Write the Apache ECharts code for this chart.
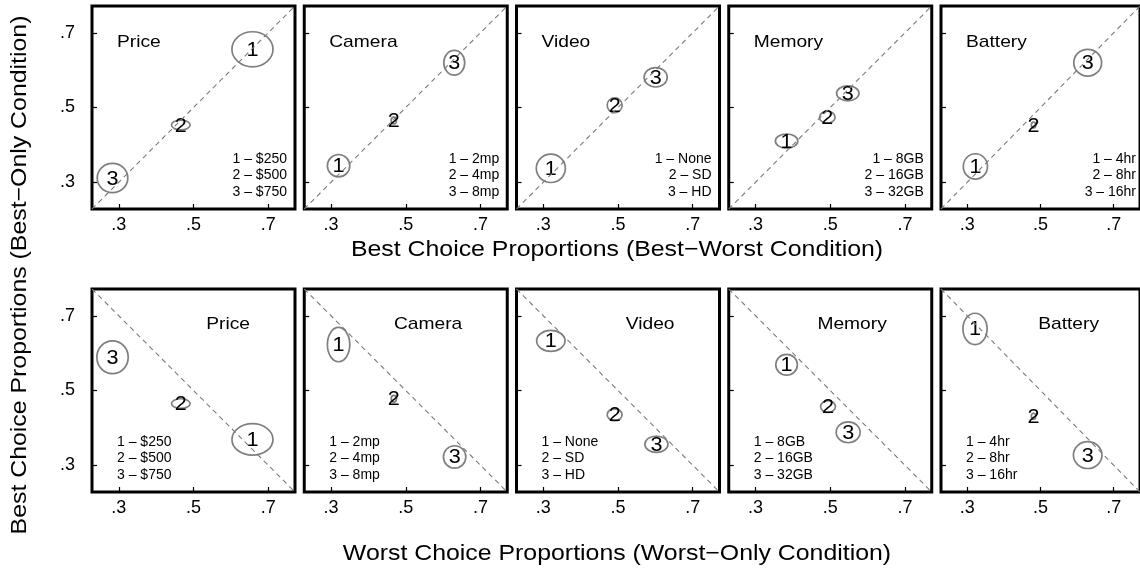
<!DOCTYPE html>
<html>
<head>
<meta charset="utf-8">
<script src="https://cdn.jsdelivr.net/npm/echarts@6/dist/echarts.min.js"></script>
<style>
  html, body { margin: 0; padding: 0; background: #fff; }
  #chart { width: 1140px; height: 571px; }
</style>
</head>
<body>
<div id="chart"></div>
<script>
// Attributes and their levels
const attributes = ['Price', 'Camera', 'Video', 'Memory', 'Battery'];
const levelNames = [
  ['$250', '$500', '$750'],
  ['2mp', '4mp', '8mp'],
  ['None', 'SD', 'HD'],
  ['8GB', '16GB', '32GB'],
  ['4hr', '8hr', '16hr']
];
const levelNumbers = ['1', '2', '3'];

// Axis scale and tick labels
const axisMin = 0.228;
const axisMax = 0.772;
const tickValues = [0.3, 0.5, 0.7];
const tickLabels = ['.3', '.5', '.7'];

// Top row: best choice (best-worst) vs best choice (best-only)
const topX = [
  [0.658, 0.466, 0.283],
  [0.320, 0.468, 0.630],
  [0.320, 0.491, 0.601],
  [0.383, 0.492, 0.547],
  [0.322, 0.481, 0.629]
];
const topY = [
  [0.656, 0.453, 0.311],
  [0.344, 0.465, 0.620],
  [0.337, 0.506, 0.581],
  [0.410, 0.474, 0.538],
  [0.342, 0.453, 0.620]
];
// half-widths of the uncertainty ellipses (data units)
const topRx = [
  [0.055, 0.025, 0.041],
  [0.030, 0.007, 0.028],
  [0.039, 0.020, 0.031],
  [0.030, 0.021, 0.030],
  [0.033, 0.006, 0.038]
];
const topRy = [
  [0.047, 0.013, 0.039],
  [0.030, 0.009, 0.033],
  [0.038, 0.020, 0.026],
  [0.019, 0.016, 0.020],
  [0.034, 0.008, 0.036]
];

// Bottom row: worst choice (worst-only) vs best choice
const bottomX = [
  [0.658, 0.466, 0.283],
  [0.320, 0.468, 0.631],
  [0.320, 0.491, 0.603],
  [0.383, 0.494, 0.548],
  [0.321, 0.481, 0.629]
];
const bottomY = [
  [0.369, 0.465, 0.589],
  [0.623, 0.478, 0.322],
  [0.633, 0.435, 0.356],
  [0.569, 0.457, 0.388],
  [0.665, 0.431, 0.327]
];
const bottomRx = [
  [0.055, 0.025, 0.042],
  [0.030, 0.007, 0.030],
  [0.038, 0.020, 0.031],
  [0.029, 0.020, 0.032],
  [0.033, 0.006, 0.039]
];
const bottomRy = [
  [0.042, 0.013, 0.044],
  [0.046, 0.009, 0.030],
  [0.028, 0.016, 0.022],
  [0.028, 0.016, 0.028],
  [0.042, 0.008, 0.036]
];

// Layout
const FONT = '"Liberation Sans", Arial, Helvetica, sans-serif';
const WIDE = 1.13;            // horizontal stretch of the lettering
const panelLeft0 = 92;
const panelStep = 212.25;
const panelSize = 203;
const rowTops = [6, 289];

const chart = echarts.init(document.getElementById('chart'), null, { renderer: 'canvas' });

const grids = [], xAxes = [], yAxes = [], series = [], graphics = [];

function fmtTick(v) {
  const i = tickValues.findIndex(t => Math.abs(t - v) < 1e-9);
  return i >= 0 ? tickLabels[i] : '';
}

const rows = [
  { xs: topX, ys: topY, rxs: topRx, rys: topRy, rising: true },
  { xs: bottomX, ys: bottomY, rxs: bottomRx, rys: bottomRy, rising: false }
];

rows.forEach((row, r) => {
  attributes.forEach((attr, c) => {
    const idx = grids.length;
    const left = panelLeft0 + c * panelStep;
    const top = rowTops[r];
    grids.push({
      left: left, top: top, width: panelSize, height: panelSize,
      show: true, borderColor: '#000', borderWidth: 3, backgroundColor: 'transparent'
    });
    xAxes.push({
      gridIndex: idx, type: 'value', min: axisMin, max: axisMax,
      axisLine: { show: false }, splitLine: { show: false },
      axisTick: { show: true, inside: true, length: 5, customValues: tickValues,
                  lineStyle: { color: '#000', width: 1.2 } },
      axisLabel: { show: true, customValues: tickValues, formatter: fmtTick,
                   fontSize: 18, color: '#000', fontFamily: FONT, margin: 7 }
    });
    yAxes.push({
      gridIndex: idx, type: 'value', min: axisMin, max: axisMax,
      axisLine: { show: false }, splitLine: { show: false },
      axisTick: { show: true, inside: true, length: 5, customValues: tickValues,
                  lineStyle: { color: '#000', width: 1.2 } },
      axisLabel: { show: c === 0, customValues: tickValues, formatter: fmtTick,
                   fontSize: 18, color: '#000', fontFamily: FONT, margin: 17 }
    });

    // reference diagonal
    series.push({
      type: 'line', xAxisIndex: idx, yAxisIndex: idx, silent: true,
      symbol: 'none', animation: false,
      data: row.rising ? [[axisMin, axisMin], [axisMax, axisMax]]
                       : [[axisMin, axisMax], [axisMax, axisMin]],
      lineStyle: { color: '#7a7a7a', width: 1.1, type: [5, 4] }
    });

    // level points with ellipses
    const pts = row.xs[c].map((x, k) => [x, row.ys[c][k], row.rxs[c][k], row.rys[c][k]]);
    series.push({
      type: 'custom', xAxisIndex: idx, yAxisIndex: idx, silent: true, animation: false,
      data: pts,
      renderItem: function (params, api) {
        const p = api.coord([api.value(0), api.value(1)]);
        const sx = api.size([api.value(2), 0])[0];
        const sy = api.size([0, api.value(3)])[1];
        return {
          type: 'group',
          children: [
            { type: 'ellipse', shape: { cx: p[0], cy: p[1], rx: sx, ry: sy },
              style: { fill: null, stroke: '#7f7f7f', lineWidth: 1.7 } },
            { type: 'text', x: p[0], y: p[1] + 1, scaleX: 1.08,
              style: { text: levelNumbers[params.dataIndex], fill: '#000',
                       font: '20px ' + FONT, align: 'center', verticalAlign: 'middle' } }
          ]
        };
      }
    });

    // attribute name
    if (r === 0) {
      graphics.push({ type: 'text', x: left + 25, y: top + 36, scaleX: WIDE,
        style: { text: attr, font: '17px ' + FONT, fill: '#000', align: 'left', verticalAlign: 'middle' } });
    } else {
      graphics.push({ type: 'text', x: left + panelSize - 45, y: top + 35, scaleX: WIDE,
        style: { text: attr, font: '17px ' + FONT, fill: '#000', align: 'right', verticalAlign: 'middle' } });
    }
    // level key
    levelNames[c].forEach((name, k) => {
      const txt = levelNumbers[k] + ' \u2013 ' + name;
      graphics.push({
        type: 'text',
        x: r === 0 ? left + panelSize - 8 : left + 25,
        y: top + 153 + k * 16.6,
        style: { text: txt, font: '14px ' + FONT, fill: '#000',
                 align: r === 0 ? 'right' : 'left', verticalAlign: 'middle' }
      });
    });
  });
});

// axis titles
graphics.push({ type: 'text', x: 617, y: 250, scaleX: WIDE,
  style: { text: 'Best Choice Proportions (Best\u2212Worst Condition)', font: '22px ' + FONT,
           fill: '#000', align: 'center', verticalAlign: 'middle' } });
graphics.push({ type: 'text', x: 617, y: 554, scaleX: WIDE,
  style: { text: 'Worst Choice Proportions (Worst\u2212Only Condition)', font: '22px ' + FONT,
           fill: '#000', align: 'center', verticalAlign: 'middle' } });
graphics.push({ type: 'text', x: 20, y: 275, rotation: Math.PI / 2, scaleX: WIDE,
  style: { text: 'Best Choice Proportions (Best\u2212Only Condition)', font: '22px ' + FONT,
           fill: '#000', align: 'center', verticalAlign: 'middle' } });

chart.setOption({
  animation: false,
  backgroundColor: '#fff',
  grid: grids,
  xAxis: xAxes,
  yAxis: yAxes,
  series: series,
  graphic: { elements: graphics }
});
</script>
</body>
</html>
